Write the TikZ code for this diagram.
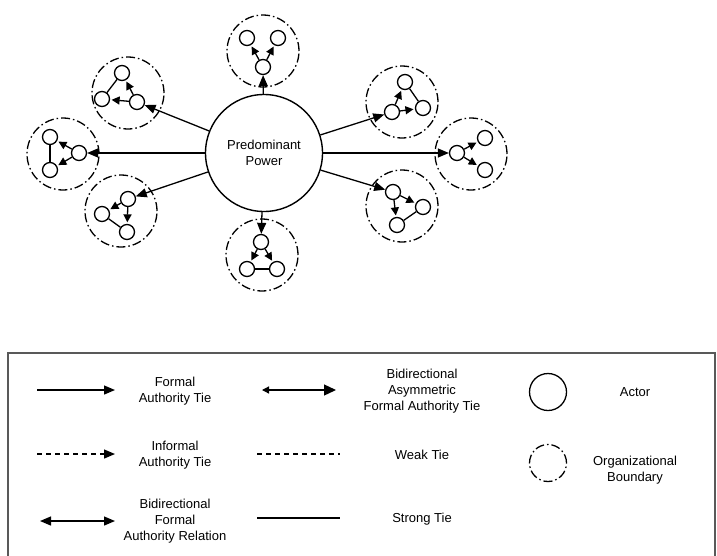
\documentclass[tikz,border=0pt]{standalone}
\usepackage{fontspec}
\setmainfont{Liberation Sans}
\usetikzlibrary{arrows.meta}

\begin{document}
\begin{tikzpicture}[x=1pt,y=-1pt,
		actor/.style={circle,draw,line width=1.3pt,minimum size=15pt,inner sep=0pt},
		orgbound/.style={circle,draw,line width=1.3pt,dash pattern=on 9pt off 3pt on 1.5pt off 3pt,minimum size=72pt,inner sep=0pt},
		formal/.style={line width=1.3pt,-{Triangle[length=11pt,width=9pt]}},
		inner/.style={line width=1.3pt,-{Triangle[length=8pt,width=8pt]},shorten >=1.5pt},
		strong/.style={line width=1.3pt},
		lbl/.style={font=\fontsize{13}{16}\selectfont,align=center}]

		\useasboundingbox (0,0) rectangle (717,555);

		% predominant power
		\node[circle,draw,line width=1.4pt,minimum size=117pt,lbl] (power) at (264,153) {Predominant\\Power};

		% top
		\node[orgbound] (bT) at (263,51) {};
		\node[actor] (T1) at (247,38) {};
		\node[actor] (T2) at (278,38) {};
		\node[actor] (T3) at (263,67) {};
		\draw[inner] (T3) -- (T1);
		\draw[inner] (T3) -- (T2);

		% upper left
		\node[orgbound] (bUL) at (128,93) {};
		\node[actor] (UL1) at (122,73) {};
		\node[actor] (UL2) at (102,99) {};
		\node[actor] (UL3) at (137,102) {};
		\draw[strong] (UL1) -- (UL2);
		\draw[inner] (UL3) -- (UL1);
		\draw[inner] (UL3) -- (UL2);

		% left
		\node[orgbound] (bL) at (63,154) {};
		\node[actor] (L1) at (50,137) {};
		\node[actor] (L2) at (50,170) {};
		\node[actor] (L3) at (79,153) {};
		\draw[strong] (L1) -- (L2);
		\draw[inner] (L3) -- (L1);
		\draw[inner] (L3) -- (L2);

		% lower left
		\node[orgbound] (bLL) at (121,211) {};
		\node[actor] (LL1) at (128,199) {};
		\node[actor] (LL2) at (102,214) {};
		\node[actor] (LL3) at (127,232) {};
		\draw[strong] (LL2) -- (LL3);
		\draw[inner] (LL1) -- (LL2);
		\draw[inner] (LL1) -- (LL3);

		% bottom
		\node[orgbound] (bB) at (262,255) {};
		\node[actor] (B1) at (261,242) {};
		\node[actor] (B2) at (247,269) {};
		\node[actor] (B3) at (277,269) {};
		\draw[strong] (B2) -- (B3);
		\draw[inner] (B1) -- (B2);
		\draw[inner] (B1) -- (B3);

		% upper right
		\node[orgbound] (bUR) at (402,102) {};
		\node[actor] (UR1) at (405,82) {};
		\node[actor] (UR2) at (392,112) {};
		\node[actor] (UR3) at (423,108) {};
		\draw[strong] (UR1) -- (UR3);
		\draw[inner] (UR2) -- (UR1);
		\draw[inner] (UR2) -- (UR3);

		% right
		\node[orgbound] (bR) at (471,154) {};
		\node[actor] (R1) at (457,153) {};
		\node[actor] (R2) at (485,138) {};
		\node[actor] (R3) at (485,170) {};
		\draw[inner] (R1) -- (R2);
		\draw[inner] (R1) -- (R3);

		% lower right
		\node[orgbound] (bLR) at (402,206) {};
		\node[actor] (LR1) at (393,192) {};
		\node[actor] (LR2) at (423,207) {};
		\node[actor] (LR3) at (397,225) {};
		\draw[strong] (LR2) -- (LR3);
		\draw[inner] (LR1) -- (LR2);
		\draw[inner] (LR1) -- (LR3);

		\foreach \a in {T3,UL3,L3,LL1,B1,UR2,R1,LR1}
			\draw[formal] (power) -- (\a);

		% legend
		\draw[line width=1.4pt,gray!70!black] (8,560) -- (8,353) -- (715,353) -- (715,560);

		\coordinate (f1) at (37,390);
		\coordinate (f2) at (115,390);
		\draw[formal] (f1) -- (f2);
		\node[lbl] (fl) at (175,391) {Formal\\Authority Tie};

		\coordinate (a1) at (262,390);
		\coordinate (a2) at (336,390);
		\draw[line width=1.3pt,{Triangle[length=7pt,width=7pt]}-{Triangle[length=12pt,width=11pt]}] (a1) -- (a2);
		\node[lbl] (al) at (422,391) {Bidirectional\\Asymmetric\\Formal Authority Tie};

		\node[actor,minimum size=37pt] (la) at (548,392) {};
		\node[lbl] (lal) at (635,392) {Actor};

		\coordinate (i1) at (37,454);
		\coordinate (i2) at (115,454);
		\draw[formal,dash pattern=on 5pt off 4pt] (i1) -- (i2);
		\node[lbl] (il) at (175,455) {Informal\\Authority Tie};

		\coordinate (w1) at (257,454);
		\coordinate (w2) at (340,454);
		\draw[strong,dash pattern=on 5pt off 4pt] (w1) -- (w2);
		\node[lbl] (wl) at (422,455) {Weak Tie};

		\node[orgbound,minimum size=37pt] (lb) at (548,463) {};
		\node[lbl] (lbl) at (635,470) {Organizational\\Boundary};

		\coordinate (d1) at (40,521);
		\coordinate (d2) at (115,521);
		\draw[line width=1.3pt,{Triangle[length=11pt,width=9pt]}-{Triangle[length=11pt,width=9pt]}] (d1) -- (d2);
		\node[lbl] (dl) at (175,521) {Bidirectional\\Formal\\Authority Relation};

		\coordinate (s1) at (257,518);
		\coordinate (s2) at (340,518);
		\draw[strong] (s1) -- (s2);
		\node[lbl] (sl) at (422,519) {Strong Tie};
	\end{tikzpicture}
\end{document}
